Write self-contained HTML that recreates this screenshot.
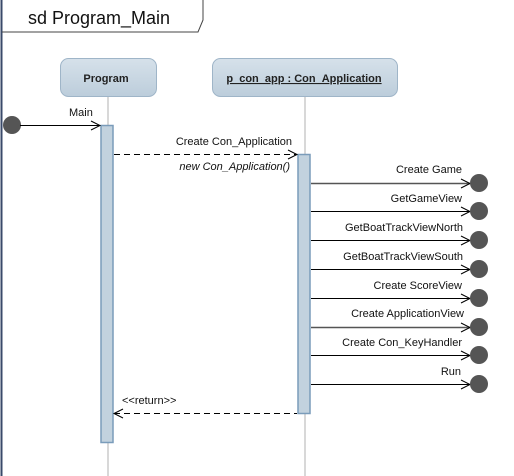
<!DOCTYPE html>
<html><head><meta charset="utf-8"><style>
html,body{margin:0;padding:0;background:#fff;width:514px;height:476px;overflow:hidden}
text{font-family:"Liberation Sans",Tahoma,sans-serif;font-size:11px;fill:#111}
</style></head><body>
<svg width="514" height="476" viewBox="0 0 514 476" xmlns="http://www.w3.org/2000/svg">
<defs><linearGradient id="g" x1="0" y1="0" x2="0" y2="1"><stop offset="0" stop-color="#d6e1ea"/><stop offset="1" stop-color="#bccddb"/></linearGradient></defs>
<line x1="1.5" y1="0" x2="1.5" y2="476" stroke="#3a4a6a" stroke-width="2"/>
<path d="M2 32 H198 L203 20 V0" fill="none" stroke="#444" stroke-width="1"/>
<text x="28" y="24" style="font-size:18px">sd Program_Main</text>
<rect x="60.5" y="58.5" width="96" height="38" rx="8" fill="url(#g)" stroke="#9fb5c8"/>
<text x="106" y="82" text-anchor="middle" style="font-weight:bold;fill:#222">Program</text>
<rect x="212.5" y="58.5" width="185" height="38" rx="8" fill="url(#g)" stroke="#9fb5c8"/>
<text x="304" y="82" text-anchor="middle" style="font-weight:bold;text-decoration:underline;fill:#222">p_con_app : Con_Application</text>
<line x1="108" y1="97" x2="108" y2="476" stroke="#ccc" stroke-width="1.5"/>
<line x1="305" y1="97" x2="305" y2="476" stroke="#ccc" stroke-width="1.5"/>
<rect x="101" y="125.5" width="12" height="317" fill="#c2d2de" stroke="#7a9cba" stroke-width="1.5"/>
<rect x="298" y="154.5" width="12" height="259" fill="#c2d2de" stroke="#7a9cba" stroke-width="1.5"/>
<circle cx="12" cy="125" r="9" fill="#555"/>
<line x1="20" y1="125.5" x2="100" y2="125.5" stroke="#000"/>
<path d="M91 121 L100 125.5 L91 130" fill="none" stroke="#000"/>
<text x="69" y="116">Main</text>
<line x1="114" y1="154.5" x2="297" y2="154.5" stroke="#000" stroke-dasharray="6,4"/>
<path d="M288 150 L297 154.5 L288 159" fill="none" stroke="#000"/>
<text x="292" y="145" text-anchor="end">Create Con_Application</text>
<text x="290" y="170" text-anchor="end" style="font-style:italic">new Con_Application()</text>
<g stroke="#000">
<line x1="311" y1="183.5" x2="470" y2="183.5" stroke="#555" stroke-width="1.5"/>
<line x1="311" y1="211.5" x2="470" y2="211.5"/>
<line x1="311" y1="240.5" x2="470" y2="240.5"/>
<line x1="311" y1="269.5" x2="470" y2="269.5"/>
<line x1="311" y1="298.5" x2="470" y2="298.5"/>
<line x1="311" y1="327.5" x2="470" y2="327.5" stroke="#555" stroke-width="1.5"/>
<line x1="311" y1="355.5" x2="470" y2="355.5"/>
<line x1="311" y1="384.5" x2="470" y2="384.5"/>
</g>
<g fill="none" stroke="#000">
<path d="M461 179 L470 183.5 L461 188"/><path d="M461 207 L470 211.5 L461 216"/>
<path d="M461 236 L470 240.5 L461 245"/><path d="M461 265 L470 269.5 L461 274"/>
<path d="M461 294 L470 298.5 L461 303"/><path d="M461 323 L470 327.5 L461 332"/>
<path d="M461 351 L470 355.5 L461 360"/><path d="M461 380 L470 384.5 L461 389"/>
</g>
<g fill="#555">
<circle cx="479" cy="183" r="9"/><circle cx="479" cy="211" r="9"/><circle cx="479" cy="240" r="9"/><circle cx="479" cy="269" r="9"/>
<circle cx="479" cy="298" r="9"/><circle cx="479" cy="327" r="9"/><circle cx="479" cy="355" r="9"/><circle cx="479" cy="384" r="9"/>
</g>
<g text-anchor="end">
<text x="462" y="173">Create Game</text>
<text x="462" y="202">GetGameView</text>
<text x="463" y="231">GetBoatTrackViewNorth</text>
<text x="463" y="260">GetBoatTrackViewSouth</text>
<text x="462" y="289">Create ScoreView</text>
<text x="464" y="317">Create ApplicationView</text>
<text x="462" y="346">Create Con_KeyHandler</text>
<text x="461" y="375">Run</text>
</g>
<line x1="114" y1="413.5" x2="297" y2="413.5" stroke="#000" stroke-dasharray="6,4"/>
<path d="M123 409 L114 413.5 L123 418" fill="none" stroke="#000"/>
<text x="122" y="404">&lt;&lt;return&gt;&gt;</text>
</svg>
</body></html>
